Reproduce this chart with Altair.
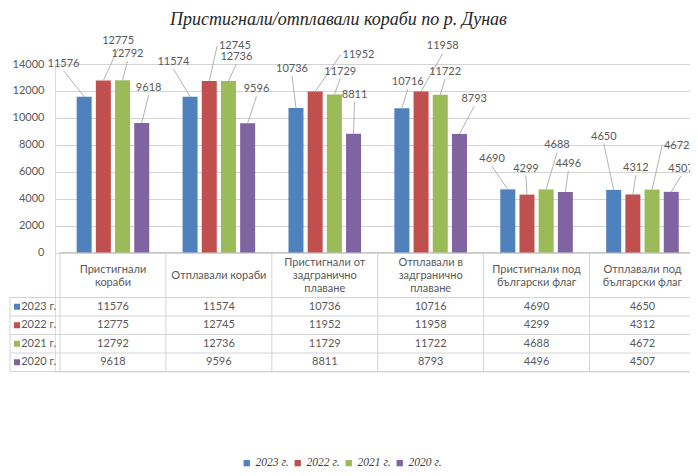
import altair as alt
import pandas as pd

# ---------------- data ----------------
categories = [
    "Пристигнали\nкораби",
    "Отплавали кораби",
    "Пристигнали от\nзадгранично\nплаване",
    "Отплавали в\nзадгранично\nплаване",
    "Пристигнали под\nбългарски флаг",
    "Отплавали под\nбългарски флаг",
]
series = ["2023 г.", "2022 г.", "2021 г.", "2020 г."]
v2023 = [11576, 11574, 10736, 10716, 4690, 4650]
v2022 = [12775, 12745, 11952, 11958, 4299, 4312]
v2021 = [12792, 12736, 11729, 11722, 4688, 4672]
v2020 = [9618, 9596, 8811, 8793, 4496, 4507]
values = [v2023, v2022, v2021, v2020]
colors = ["#4F81BD", "#C0504D", "#9BBB59", "#8064A2"]
y_ticks = [0, 2000, 4000, 6000, 8000, 10000, 12000, 14000]

# label nudges (pixels from bar top, as moved in the original)
nudge_dx = [
    [-21, -17, -4, 6, -16, -10],
    [15, 26, 44, 22, -1, 3],
    [5, 8, 6, 5, 11, 25],
    [7, 9, 1, 15, 3, 10],
]
nudge_dy = [
    [-33, -35, -39, -26, -30, -53],
    [-39, -35, -37, -45, -26, -26],
    [-26, -24, -23, -23, -44, -44],
    [-35, -34, -39, -35, -28, -23],
]

# ---------------- layout ----------------
PAD_L, PAD_T = 47, 56
SVG_W, SVG_H = 682, 460
PLOT_W = SVG_W - PAD_L
BAR_H = 188.5
HEADER_H, ROW_H = 45.0, 18.5
LINE_H = 13
TABLE_H = HEADER_H + ROW_H * len(series)
PLOT_H = BAR_H + TABLE_H
PX_PER_CAT = 107.6
X_MAX = -0.5 + PLOT_W / PX_PER_CAT
BAR_STEP = 19.5 / PX_PER_CAT
Y_MAX = 14000
VAL_PER_PX = Y_MAX / BAR_H
FONT = "Lato"
TXT = "#595959"
LINE = "#d4d4d4"

rows = []
for j, s in enumerate(series):
    for i, v in enumerate(values[j]):
        pos = i + (j - 1.5) * BAR_STEP
        ndx, ndy = nudge_dx[j][i], nudge_dy[j][i]
        lx = pos + ndx / PX_PER_CAT
        ly = v - ndy * VAL_PER_PX
        half = 3.2 * len(str(v)) + 2
        if ndx > 22:
            ax, ay = lx - half / PX_PER_CAT, ly
        else:
            ax, ay = lx, ly - 7 * VAL_PER_PX
        rows.append(dict(series=s, order=j, cat=i, value=v, pos=pos,
                         lx=lx, ly=ly, ax=ax, ay=ay, txt=str(v)))
df = pd.DataFrame(rows)

xs = alt.Scale(domain=[-0.5, X_MAX], nice=False, zero=False)
ys = alt.Scale(domain=[0, Y_MAX], range=[BAR_H, 0], nice=False, zero=True)
ts = alt.Scale(domain=[0, TABLE_H], range=[BAR_H, PLOT_H], nice=False, zero=False)
cs = alt.Scale(domain=series, range=colors)
leg = alt.Legend(
    orient="none", legendX=186, legendY=393, direction="horizontal",
    title=None, symbolType="square", symbolSize=40, symbolStrokeWidth=0,
    labelFont="Liberation Serif", labelFontStyle="italic", labelFontSize=11.5,
    labelColor="#404040", labelOffset=3, columnPadding=3, padding=0)

base = alt.Chart(df)

bars = base.mark_bar(size=15).encode(
    x=alt.X("pos:Q", scale=xs, axis=None),
    y=alt.Y("value:Q", scale=ys, axis=alt.Axis(
        values=y_ticks, format="d", grid=True, gridColor=LINE, gridWidth=1,
        domain=False, ticks=False, labelColor=TXT, labelFont=FONT,
        labelFontSize=11, labelPadding=11, title=None)),
    color=alt.Color("series:N", scale=cs, sort=series, legend=leg),
)

leaders = base.mark_rule(color="#a0a0a0", strokeWidth=0.8).encode(
    x=alt.X("pos:Q", scale=xs, axis=None),
    x2="ax:Q",
    y=alt.Y("value:Q", scale=ys, axis=None),
    y2="ay:Q",
)

labels = base.mark_text(font=FONT, fontSize=11, color=TXT, baseline="middle").encode(
    x=alt.X("lx:Q", scale=xs, axis=None),
    y=alt.Y("ly:Q", scale=ys, axis=None),
    text="txt:N",
)

# ---------------- data table ----------------
vlines = pd.DataFrame({"x": [k - 0.5 for k in range(len(categories) + 1)],
                       "y0": 0.0, "y1": TABLE_H})
hlines = pd.DataFrame({"y": [HEADER_H + k * ROW_H for k in range(len(series) + 1)],
                       "x0": -0.5, "x1": len(categories) - 0.5})
topline = pd.DataFrame({"y": [0.0], "x0": [-0.5], "x1": [len(categories) - 0.5]})
leftline = pd.DataFrame({"x": [-0.5], "y0": [HEADER_H], "y1": [TABLE_H]})

t_v = alt.Chart(vlines).mark_rule(color=LINE, strokeWidth=1).encode(
    x=alt.X("x:Q", scale=xs, axis=None),
    y=alt.Y("y0:Q", scale=ts, axis=None), y2="y1:Q")
t_h = alt.Chart(hlines).mark_rule(color=LINE, strokeWidth=1, xOffset=-50).encode(
    x=alt.X("x0:Q", scale=xs, axis=None), x2="x1:Q",
    y=alt.Y("y:Q", scale=ts, axis=None))
t_top = alt.Chart(topline).mark_rule(color="#c8c8c8", strokeWidth=1).encode(
    x=alt.X("x0:Q", scale=xs, axis=None), x2="x1:Q",
    y=alt.Y("y:Q", scale=ts, axis=None))
t_left = alt.Chart(leftline).mark_rule(color=LINE, strokeWidth=1, xOffset=-50).encode(
    x=alt.X("x:Q", scale=xs, axis=None),
    y=alt.Y("y0:Q", scale=ts, axis=None), y2="y1:Q")

n_lines = [c.count("\n") + 1 for c in categories]
hdr = pd.DataFrame({"x": list(range(len(categories))),
                    "y": [HEADER_H / 2 + 1 - (n - 1) * LINE_H / 2 for n in n_lines],
                    "t": categories})
t_hdr = alt.Chart(hdr).mark_text(font=FONT, fontSize=11, color=TXT, lineBreak="\n",
                                 lineHeight=LINE_H, baseline="middle").encode(
    x=alt.X("x:Q", scale=xs, axis=None),
    y=alt.Y("y:Q", scale=ts, axis=None), text="t:N")

rl = pd.DataFrame({"x": -0.5, "y": [HEADER_H + ROW_H * (k + 0.5) for k in range(len(series))],
                   "series": series})
t_rl = alt.Chart(rl).mark_text(font=FONT, fontSize=11, color=TXT, align="right",
                               dx=-4, baseline="middle").encode(
    x=alt.X("x:Q", scale=xs, axis=None),
    y=alt.Y("y:Q", scale=ts, axis=None), text="series:N")
t_sq = alt.Chart(rl).mark_square(size=36, opacity=1, xOffset=-43).encode(
    x=alt.X("x:Q", scale=xs, axis=None),
    y=alt.Y("y:Q", scale=ts, axis=None),
    color=alt.Color("series:N", scale=cs, sort=series, legend=leg))

cells = df.assign(ty=HEADER_H + ROW_H * (df["order"] + 0.5))
t_cells = alt.Chart(cells).mark_text(font=FONT, fontSize=11, color=TXT,
                                     baseline="middle").encode(
    x=alt.X("cat:Q", scale=xs, axis=None),
    y=alt.Y("ty:Q", scale=ts, axis=None), text="txt:N")

chart = alt.layer(
    t_v, t_h, t_top, t_left, t_hdr, t_rl, t_sq, t_cells, bars, leaders, labels
).resolve_scale(y="independent").properties(
    width=PLOT_W, height=PLOT_H,
    title=alt.Title("Пристигнали/отплавали кораби по р. Дунав",
                    font="Liberation Serif", fontStyle="italic", fontWeight="normal",
                    fontSize=18, color="#262626", anchor="middle", dx=-34, offset=6),
    autosize=alt.AutoSizeParams(type="none"),
    padding={"left": PAD_L, "top": PAD_T, "right": SVG_W - PAD_L - PLOT_W,
             "bottom": SVG_H - PAD_T - PLOT_H},
).configure_view(stroke=None).configure(background="white")

chart.save("out.html", embed_options={"renderer": "svg", "actions": False})
